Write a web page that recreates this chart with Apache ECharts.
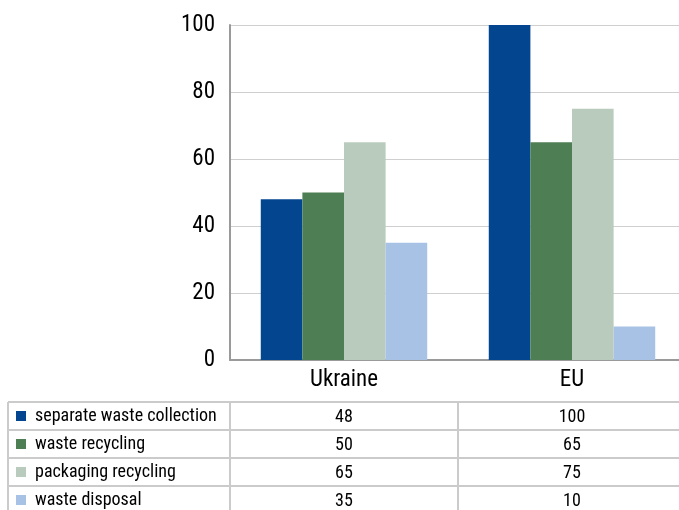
<!DOCTYPE html>
<html><head><meta charset="utf-8">
<script src="https://cdn.jsdelivr.net/npm/echarts@6/dist/echarts.min.js"></script>
<style>html,body{margin:0;padding:0;background:#fff}#c{width:679px;height:510px}</style>
</head><body><div id="c"></div>
<script>
var categories = ['Ukraine', 'EU'];
var seriesNames = ['separate waste collection', 'waste recycling', 'packaging recycling', 'waste disposal'];
var separateCollection = [48, 100];
var wasteRecycling = [50, 65];
var packagingRecycling = [65, 75];
var wasteDisposal = [35, 10];
var yTicks = [0, 20, 40, 60, 80, 100];
var colors = ['#03468f', '#4e7e53', '#b9cbbc', '#a8c2e6'];

var values = [separateCollection, wasteRecycling, packagingRecycling, wasteDisposal];
var FONT = '"Roboto Condensed","Liberation Sans Narrow","DejaVu Sans Condensed",sans-serif';

var chart = echarts.init(document.getElementById('c'));
var grid = {left: 230, width: 456, top: 25, bottom: 150, outerBoundsMode: 'none', containLabel: false};

var series = seriesNames.map(function (n, i) {
  return {name: n, type: 'bar', data: values[i], barGap: '0%', barCategoryGap: '27%',
    itemStyle: {color: colors[i]}};
});

// table built from the data arrays
var W = 679, tableTop = 402, rowH = 28, col0 = 8, col1 = 230;
var catW = grid.width / categories.length;
var g = [];
var borderColor = '#cbcbcb';
for (var r = 0; r < seriesNames.length; r++) {
  var y = tableTop + r * rowH;
  g.push({type: 'line', shape: {x1: col0, y1: y, x2: W, y2: y}, style: {stroke: borderColor, lineWidth: 2}});
  g.push({type: 'rect', shape: {x: 16, y: y + 9, width: 10, height: 10}, style: {fill: colors[r]}});
  g.push({type: 'text', x: 35, y: y + 14, style: {text: seriesNames[r], font: '18px ' + FONT, fill: '#000', verticalAlign: 'middle', align: 'left'}});
  for (var c = 0; c < categories.length; c++) {
    g.push({type: 'text', x: grid.left + catW * (c + 0.5), y: y + 15,
      style: {text: String(values[r][c]), font: '18px ' + FONT, fill: '#000', align: 'center', verticalAlign: 'middle'}});
  }
}
var tableBottom = tableTop + seriesNames.length * rowH;
g.push({type: 'line', shape: {x1: col0, y1: tableTop, x2: col0, y2: tableBottom}, style: {stroke: borderColor, lineWidth: 2}});
g.push({type: 'line', shape: {x1: col1, y1: tableTop, x2: col1, y2: tableBottom}, style: {stroke: borderColor, lineWidth: 2}});
for (var c2 = 1; c2 < categories.length; c2++) {
  var xx = grid.left + catW * c2;
  g.push({type: 'line', shape: {x1: xx, y1: tableTop, x2: xx, y2: tableBottom}, style: {stroke: borderColor, lineWidth: 2}});
}

chart.setOption({
  animation: false,
  grid: grid,
  xAxis: {type: 'category', data: categories,
    axisLine: {lineStyle: {color: '#9a9a9a', width: 2}},
    axisTick: {show: false},
    axisLabel: {color: '#000', fontSize: 23, fontFamily: FONT, margin: 9}},
  yAxis: {type: 'value', min: yTicks[0], max: yTicks[yTicks.length - 1], interval: yTicks[1] - yTicks[0],
    axisLine: {show: true, lineStyle: {color: '#9a9a9a', width: 2}},
    axisTick: {show: false},
    splitLine: {lineStyle: {color: '#cfcfcf', width: 1}},
    axisLabel: {color: '#000', fontSize: 23, fontFamily: FONT, margin: 15}},
  series: series,
  graphic: g
});
</script></body></html>
